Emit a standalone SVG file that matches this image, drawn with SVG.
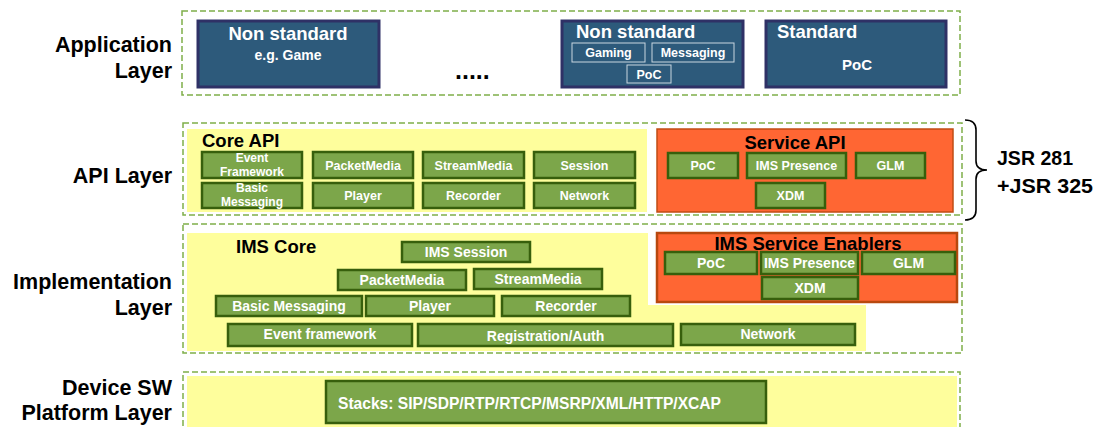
<svg xmlns="http://www.w3.org/2000/svg" width="1096" height="427" viewBox="0 0 1096 427">
  <style>
    text { font-family: "Liberation Sans", Arial, sans-serif; font-weight: bold; }
    .layer { fill: none; stroke: #7FAE4A; stroke-width: 1.5; stroke-dasharray: 6 3; }
    .yellow { fill: #FEFE9C; }
    .app { fill: #2D5A7B; stroke: #2F3166; stroke-width: 3; }
    .sub { fill: none; stroke: #C9D6E0; stroke-width: 1; }
    .orange { fill: #FF6633; stroke: #C04C14; stroke-width: 1.5; }
    .orange2 { fill: #FF6633; stroke: #B8480E; stroke-width: 2.5; }
    .mod { fill: #7CA64A; stroke: #375F0C; stroke-width: 2.5; }
    .side { font-size: 21.5px; fill: #000; text-anchor: end; }
    .wt { fill: #FFFFFF; text-anchor: middle; }
    .m13 { font-size: 12.5px; }
    .m14 { font-size: 14px; }
    .title { font-size: 18.5px; fill: #000; }
    .apptitle { font-size: 18.5px; fill: #FFFFFF; }
    .jsr { font-size: 21px; fill: #000; }
  </style>

  <!-- layer captions -->
  <g id="captions">
    <text class="side" x="172" y="52">Application</text>
    <text class="side" x="172" y="78">Layer</text>
    <text class="side" x="172" y="183">API Layer</text>
    <text class="side" x="172" y="289">Implementation</text>
    <text class="side" x="172" y="315">Layer</text>
    <text class="side" x="172" y="395">Device SW</text>
    <text class="side" x="172" y="420">Platform Layer</text>
  </g>

  <!-- application layer -->
  <g id="application-layer">
    <rect class="layer" x="182" y="11" width="778" height="84"/>
    <g id="app-nonstandard-game">
      <rect class="app" x="198" y="21" width="181" height="66"/>
      <text class="apptitle" x="288" y="40" text-anchor="middle">Non standard</text>
      <text class="wt m14" x="288" y="60">e.g. Game</text>
    </g>
    <text x="455" y="79" font-size="25px" fill="#000">.....</text>
    <g id="app-nonstandard">
      <rect class="app" x="562" y="21" width="181" height="66"/>
      <text class="apptitle" x="576" y="38">Non standard</text>
      <rect class="sub" x="572" y="43" width="73" height="19"/>
      <text class="wt m13" x="608.5" y="57">Gaming</text>
      <rect class="sub" x="652" y="43" width="82" height="19"/>
      <text class="wt m13" x="693" y="57">Messaging</text>
      <rect class="sub" x="627" y="65" width="44" height="18"/>
      <text class="wt m13" x="649" y="79">PoC</text>
    </g>
    <g id="app-standard">
      <rect class="app" x="766" y="21" width="180" height="66"/>
      <text class="apptitle" x="777" y="38">Standard</text>
      <text class="wt" x="857" y="70" font-size="15px">PoC</text>
    </g>
  </g>

  <!-- API layer -->
  <g id="api-layer">
    <rect class="layer" x="183" y="123" width="779" height="92"/>
    <g id="core-api">
      <rect class="yellow" x="187" y="129" width="460" height="83"/>
      <text class="title" x="202" y="147">Core API</text>
      <rect class="mod" x="202" y="152" width="100" height="26"/>
      <text class="wt" x="252" y="162" font-size="12px">Event</text>
      <text class="wt" x="252" y="176" font-size="12px">Framework</text>
      <rect class="mod" x="313" y="152" width="100" height="26"/>
      <text class="wt m13" x="363" y="170">PacketMedia</text>
      <rect class="mod" x="423" y="152" width="101" height="26"/>
      <text class="wt m13" x="473.5" y="170">StreamMedia</text>
      <rect class="mod" x="534" y="152" width="101" height="26"/>
      <text class="wt m13" x="584.5" y="170">Session</text>
      <rect class="mod" x="202" y="183" width="100" height="25"/>
      <text class="wt" x="252" y="192" font-size="12px">Basic</text>
      <text class="wt" x="252" y="206" font-size="12px">Messaging</text>
      <rect class="mod" x="313" y="183" width="100" height="25"/>
      <text class="wt m13" x="363" y="200">Player</text>
      <rect class="mod" x="423" y="183" width="101" height="25"/>
      <text class="wt m13" x="473.5" y="200">Recorder</text>
      <rect class="mod" x="534" y="183" width="101" height="25"/>
      <text class="wt m13" x="584.5" y="200">Network</text>
    </g>
    <g id="service-api">
      <rect class="orange" x="657" y="129" width="296" height="83"/>
      <text class="title" x="795" y="149" text-anchor="middle">Service API</text>
      <rect class="mod" x="668" y="153" width="70" height="25"/>
      <text class="wt m13" x="703" y="170">PoC</text>
      <rect class="mod" x="747" y="153" width="99" height="25"/>
      <text class="wt m13" x="796.5" y="170">IMS Presence</text>
      <rect class="mod" x="856" y="153" width="69" height="25"/>
      <text class="wt m13" x="890.5" y="170">GLM</text>
      <rect class="mod" x="756" y="183" width="69" height="25"/>
      <text class="wt m13" x="790.5" y="200">XDM</text>
    </g>
  </g>

  <!-- brace and JSR label -->
  <g id="jsr">
    <path d="M965,120 Q976,120 976,130 L976,161 Q976,170 987,170 Q976,170 976,179 L976,210 Q976,220 965,220" fill="none" stroke="#000" stroke-width="1.6"/>
    <text class="jsr" x="997" y="165" textLength="76" lengthAdjust="spacingAndGlyphs">JSR 281</text>
    <text class="jsr" x="997" y="193" textLength="96" lengthAdjust="spacingAndGlyphs">+JSR 325</text>
  </g>

  <!-- implementation layer -->
  <g id="implementation-layer">
    <rect class="layer" x="183" y="224" width="779" height="129"/>
    <g id="ims-core">
      <rect class="yellow" x="187" y="233" width="679" height="118"/>
      <rect fill="#FFFFFF" x="648" y="229" width="312" height="76"/>
      <text class="title" x="236" y="253">IMS Core</text>
      <rect class="mod" x="402" y="242" width="128" height="20"/>
      <text class="wt m14" x="466" y="257">IMS Session</text>
      <rect class="mod" x="338" y="270" width="128" height="20"/>
      <text class="wt m14" x="402" y="285">PacketMedia</text>
      <rect class="mod" x="474" y="269" width="128" height="20"/>
      <text class="wt m14" x="538" y="284">StreamMedia</text>
      <rect class="mod" x="216" y="296" width="146" height="20"/>
      <text class="wt m14" x="289" y="311">Basic Messaging</text>
      <rect class="mod" x="366" y="296" width="128" height="20"/>
      <text class="wt m14" x="430" y="311">Player</text>
      <rect class="mod" x="502" y="296" width="128" height="20"/>
      <text class="wt m14" x="566" y="311">Recorder</text>
      <rect class="mod" x="228" y="324" width="184" height="22"/>
      <text class="wt m14" x="320" y="339">Event framework</text>
      <rect class="mod" x="418" y="324" width="255" height="22"/>
      <text class="wt m14" x="545.5" y="341">Registration/Auth</text>
      <rect class="mod" x="681" y="324" width="174" height="21"/>
      <text class="wt m14" x="768" y="339">Network</text>
    </g>
    <g id="ims-service-enablers">
      <rect class="orange2" x="657" y="233" width="300" height="69"/>
      <text class="title" x="808" y="250" text-anchor="middle">IMS Service Enablers</text>
      <rect class="mod" x="665" y="252" width="92" height="22"/>
      <text class="wt m14" x="711" y="268">PoC</text>
      <rect class="mod" x="761" y="252" width="97" height="22"/>
      <text class="wt m14" x="809.5" y="268">IMS Presence</text>
      <rect class="mod" x="862" y="252" width="93" height="22"/>
      <text class="wt m14" x="908.5" y="268">GLM</text>
      <rect class="mod" x="762" y="277" width="96" height="22"/>
      <text class="wt m14" x="810" y="293">XDM</text>
    </g>
  </g>

  <!-- device SW platform layer -->
  <g id="platform-layer">
    <rect class="yellow" x="187" y="376" width="770" height="55"/>
    <rect class="layer" x="183" y="372" width="777" height="60"/>
    <g id="stacks">
      <rect class="mod" x="326" y="381" width="440" height="42"/>
      <text fill="#FFFFFF" x="338" y="409" font-size="16px" textLength="383" lengthAdjust="spacingAndGlyphs">Stacks: SIP/SDP/RTP/RTCP/MSRP/XML/HTTP/XCAP</text>
    </g>
  </g>
</svg>
